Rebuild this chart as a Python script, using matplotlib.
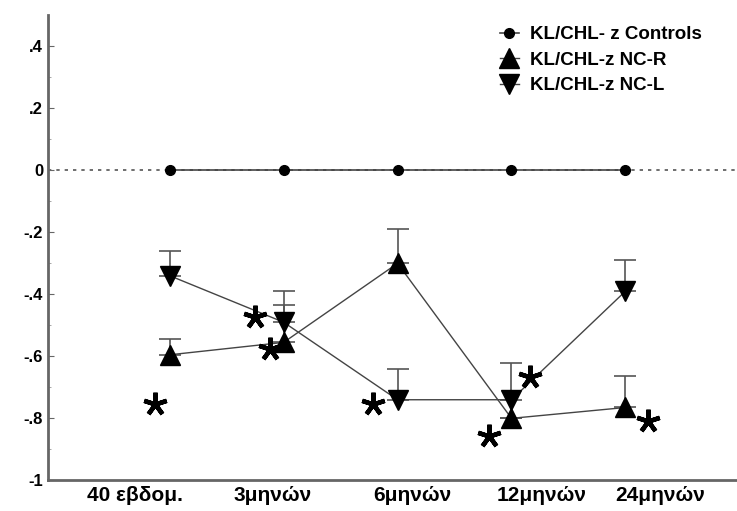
import numpy as np
import matplotlib.pyplot as plt
from matplotlib.transforms import ScaledTranslation

plt.rcParams['font.family'] = ['Liberation Sans', 'DejaVu Sans']
plt.rcParams['font.weight'] = 'bold'

# data
periods = ['40 εβδομ.', '3μηνών', '6μηνών', '12μηνών', '24μηνών']
controls = [0, 0, 0, 0, 0]
nc_r = [-0.595, -0.555, -0.30, -0.80, -0.765]
nc_r_err = [0.05, 0.12, 0.11, 0.0, 0.10]
nc_l = [-0.34, -0.49, -0.74, -0.74, -0.39]
nc_l_err = [0.08, 0.10, 0.10, 0.12, 0.10]

# asterisk annotations (significance marks)
star_x = [-0.13, 0.75, 0.88, 1.78, 2.80, 3.16, 4.20]
star_y = [-0.755, -0.474, -0.577, -0.755, -0.858, -0.668, -0.81]

x = np.arange(len(periods))

fig, ax = plt.subplots(figsize=(7.37, 5.11), dpi=100)
fig.subplots_adjust(left=0.065, right=1.0, top=0.97, bottom=0.06)

ax.axhline(0, color='#555555', linestyle=(0, (2, 3)), linewidth=1.2, zorder=1)

ax.plot(x, controls, color='#444444', linewidth=1.2, marker='o', markersize=7,
        markerfacecolor='black', markeredgecolor='black',
        label='KL/CHL- z Controls', zorder=3)

ax.errorbar(x, nc_r, yerr=[np.zeros(len(x)), nc_r_err], color='#555555',
            capsize=8, elinewidth=1.2, capthick=1.2, fmt='none', zorder=2)
ax.plot(x, nc_r, color='#444444', linewidth=1.0, marker='^', markersize=15,
        markerfacecolor='black', markeredgecolor='black',
        label='KL/CHL-z NC-R', zorder=3)

ax.errorbar(x, nc_l, yerr=[np.zeros(len(x)), nc_l_err], color='#555555',
            capsize=8, elinewidth=1.2, capthick=1.2, fmt='none', zorder=2)
ax.plot(x, nc_l, color='#444444', linewidth=1.0, marker='v', markersize=15,
        markerfacecolor='black', markeredgecolor='black',
        label='KL/CHL-z NC-L', zorder=3)

ax.plot(star_x, star_y, linestyle='none', marker=(5, 2, 0), markersize=17,
        markeredgewidth=3.2, color='black', zorder=4)

ax.set_xlim(-1.07, 4.98)
ax.set_ylim(-1.0, 0.5)
ax.set_yticks([-1, -0.8, -0.6, -0.4, -0.2, 0, 0.2, 0.4])
ax.set_yticklabels(['-1', '-.8', '-.6', '-.4', '-.2', '0', '.2', '.4'], fontsize=12)
ax.set_yticks(np.arange(-1.0, 0.45, 0.1), minor=True)
ax.set_xticks(x)
ax.set_xticklabels(periods, fontsize=15)
ax.tick_params(axis='x', length=0, pad=4)
ax.tick_params(axis='y', direction='in', length=4, color='#666666')
ax.tick_params(axis='y', which='minor', direction='in', length=2, color='#999999')

# shift the period labels the way they sit in the original
shifts_px = [-35, -11, 15, 30, 35]
for lab, dx in zip(ax.get_xticklabels(), shifts_px):
    lab.set_transform(lab.get_transform() + ScaledTranslation(dx / 100, 0, fig.dpi_scale_trans))

ax.spines['top'].set_visible(False)
ax.spines['right'].set_visible(False)
ax.spines['left'].set_color('#666666')
ax.spines['bottom'].set_color('#666666')
ax.spines['left'].set_linewidth(2)
ax.spines['bottom'].set_linewidth(2)

fig.legend(loc='upper left', bbox_to_anchor=(500 / 737, 1 - 26 / 511), frameon=False,
           fontsize=13.5, handlelength=1.0, handletextpad=0.6, labelspacing=0.45,
           borderpad=0, borderaxespad=0)

fig.savefig('out.png')
